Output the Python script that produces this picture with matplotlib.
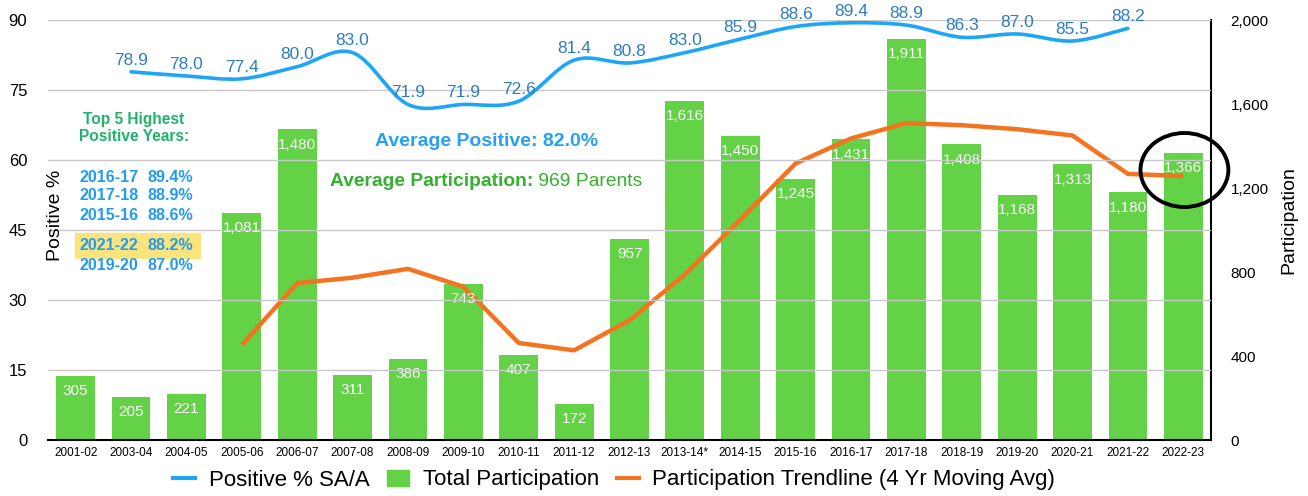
import matplotlib
matplotlib.use("Agg")
import matplotlib.pyplot as plt
import numpy as np
from matplotlib.path import Path
from matplotlib.patches import PathPatch, Rectangle, Ellipse, Patch
from matplotlib.lines import Line2D

plt.rcParams["font.family"] = ["Liberation Sans", "DejaVu Sans"]

# --- data ---
years = ["2001-02", "2003-04", "2004-05", "2005-06", "2006-07", "2007-08", "2008-09",
         "2009-10", "2010-11", "2011-12", "2012-13", "2013-14*", "2014-15", "2015-16",
         "2016-17", "2017-18", "2018-19", "2019-20", "2020-21", "2021-22", "2022-23"]
participation = [305, 205, 221, 1081, 1480, 311, 386, 743, 407, 172, 957, 1616,
                 1450, 1245, 1431, 1911, 1408, 1168, 1313, 1180, 1366]
# positive % starts at 2003-04 and ends at 2021-22
positive_years = years[1:20]
positive = [78.9, 78.0, 77.4, 80.0, 83.0, 71.9, 71.9, 72.6, 81.4, 80.8, 83.0,
            85.9, 88.6, 89.4, 88.9, 86.3, 87.0, 85.5, 88.2]
# 4-year moving average, starts at 2005-06
trend_years = years[3:]
trend = [453, 747, 773, 815, 730, 462, 427, 570, 788, 1049, 1317, 1436, 1509,
         1499, 1480, 1450, 1267, 1257]
top5 = [("2016-17", "89.4%"), ("2017-18", "88.9%"), ("2015-16", "88.6%"),
        ("2021-22", "88.2%"), ("2019-20", "87.0%")]

BAR = "#63d246"
BLUE = "#1ea5f7"
BLUE_TXT = "#2d7dc0"
ORANGE = "#f5731e"
W, H = 1308, 496


def smooth_path(xs, ys):
    # Catmull-Rom through the points, as cubic Bezier segments
    pts = np.column_stack([xs, ys]).astype(float)
    p = np.vstack([pts[0], pts, pts[-1]])
    verts = [pts[0]]
    codes = [Path.MOVETO]
    for i in range(1, len(p) - 2):
        c1 = p[i] + (p[i + 1] - p[i - 1]) / 6
        c2 = p[i + 1] - (p[i + 2] - p[i]) / 6
        verts += [c1, c2, p[i + 1]]
        codes += [Path.CURVE4] * 3
    return Path(verts, codes)


fig = plt.figure(figsize=(W / 100, H / 100), dpi=100)
ax = fig.add_axes([48 / W, 56 / H, 1163 / W, 420 / H])
ax2 = ax.twinx()

x = np.arange(len(years))
ax.set_xlim(-0.5, len(years) - 0.5)
ax.set_ylim(0, 90)
ax2.set_ylim(0, 2000)
ax.set_yticks(range(0, 91, 15))
ax2.set_yticks(range(0, 2001, 400))
ax2.set_yticklabels([f"{v:,}" for v in range(0, 2001, 400)])
ax.grid(axis="y", color="#c8c8c8", lw=1)
ax.set_axisbelow(True)

for a in (ax, ax2):
    for s in ("top", "left", "right"):
        a.spines[s].set_visible(False)
ax2.spines["right"].set_visible(True)
ax2.spines["right"].set_color("black")
ax2.spines["right"].set_linewidth(1.5)
ax.spines["bottom"].set_linewidth(1.5)
ax2.spines["bottom"].set_visible(False)

ax.tick_params(axis="y", length=0, pad=15, labelsize=12)
ax2.tick_params(axis="y", length=0, pad=14, labelsize=11)
ax.set_xticks(x)
ax.set_xticklabels(years, fontsize=8.5)
ax.tick_params(axis="x", length=0, pad=5)

# bars
ax2.bar(x, participation, width=0.7, color=BAR, zorder=1)
for i, v in enumerate(participation):
    ax2.annotate(f"{v:,}", (i, v), xytext=(0, -6), textcoords="offset points",
                 ha="center", va="top", color="white", fontsize=11, zorder=3)

# positive % line
px = [years.index(y) for y in positive_years]
ax.add_patch(PathPatch(smooth_path(px, positive), fill=False, ec=BLUE, lw=2.6,
                       capstyle="round"))
for xi, v in zip(px, positive):
    ax.annotate(f"{v:.1f}", (xi, v), xytext=(0, 3), textcoords="offset points",
                ha="center", va="bottom", color=BLUE_TXT, fontsize=12.5)

# trendline
tx = [years.index(y) for y in trend_years]
ax2.plot(tx, trend, color=ORANGE, lw=3.2, solid_joinstyle="round",
         solid_capstyle="butt", zorder=2)

# axis titles
ax.text((55 - 48) / 1163, (440 - 215) / 420, "Positive %", rotation=90,
        ha="center", va="center", fontsize=14, transform=ax.transAxes)
ax2.text((1289 - 48) / 1163, (440 - 220) / 420, "Participation", rotation=90,
         ha="center", va="center", fontsize=14, transform=ax2.transAxes)

# annotations
fig.text(134 / W, 1 - 128 / H, "Top 5 Highest\nPositive Years:", ha="center",
         va="center", fontsize=11.2, fontweight="bold", color="#22b36b",
         linespacing=1.2)
fig.add_artist(Rectangle((75 / W, 1 - 258 / H), 125 / W, 25 / H,
                         transform=fig.transFigure, color="#fce47c", zorder=1))
for yy, (yr, pct) in zip([177, 196, 215, 246, 265], top5):
    fig.text(80 / W, 1 - yy / H, yr, ha="left", va="center", fontsize=11.6,
             fontweight="bold", color="#239cf0")
    fig.text(148 / W, 1 - yy / H, pct, ha="left", va="center", fontsize=11.6,
             fontweight="bold", color="#239cf0")

fig.text(487 / W, 1 - 141 / H, "Average Positive: 82.0%", ha="center",
         va="center", fontsize=14, fontweight="bold", color="#27a0f2")
t1 = fig.text(330 / W, 1 - 182 / H, "Average Participation:", ha="left",
              va="center", fontsize=13.9, fontweight="bold", color="#36b02f")
ax2.annotate(" 969 Parents", xy=(1, 0), xycoords=t1, ha="left", va="bottom",
             fontsize=13.9, color="#36b02f")

# circle around the last bar label
ax.add_patch(Ellipse((20.02, (440 - 170) / 420 * 90), 88 / 55.45, 74 / 420 * 90,
                     fill=False, ec="black", lw=2.8, clip_on=False, zorder=10))
ax.set_zorder(ax2.get_zorder() + 1)
ax.patch.set_visible(False)

handles = [Line2D([], [], color=BLUE, lw=3),
           Patch(color=BAR),
           Line2D([], [], color=ORANGE, lw=3)]
labels = ["Positive % SA/A", "Total Participation",
          "Participation Trendline (4 Yr Moving Avg)"]
fig.legend(handles, labels, loc="center", bbox_to_anchor=(614 / W, 1 - 480 / H),
           ncol=3, frameon=False, fontsize=16, handlelength=1.0,
           handletextpad=0.6, columnspacing=0.8)

fig.savefig("out.png", dpi=100)
